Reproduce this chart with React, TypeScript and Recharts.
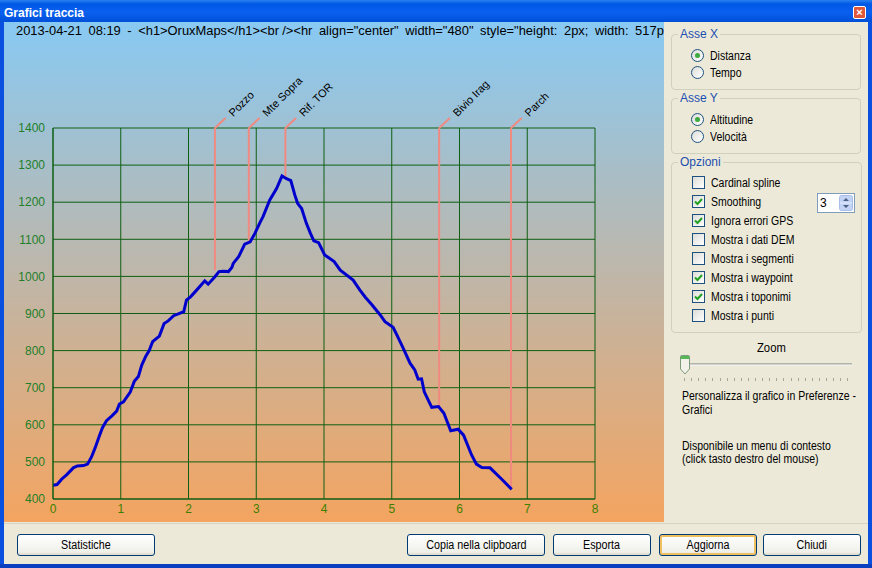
import React from "react";
import {
  ComposedChart,
  Line,
  XAxis,
  YAxis,
  CartesianGrid,
  ReferenceLine,
  ReferenceDot,
} from "recharts";

const distanceKm = [0,0.06,0.13,0.2,0.3,0.36,0.45,0.51,0.57,0.62,0.68,0.73,0.79,0.87,0.94,0.98,1.04,1.14,1.2,1.26,1.31,1.37,1.42,1.47,1.57,1.64,1.7,1.78,1.85,1.93,1.97,2.03,2.12,2.24,2.29,2.39,2.45,2.51,2.59,2.64,2.66,2.74,2.83,2.91,2.98,3.06,3.1,3.2,3.3,3.38,3.44,3.51,3.57,3.61,3.67,3.74,3.8,3.85,3.92,4.01,4.15,4.24,4.43,4.53,4.61,4.71,4.83,4.9,5.02,5.1,5.17,5.27,5.34,5.39,5.44,5.48,5.59,5.69,5.77,5.87,5.98,6.06,6.18,6.25,6.33,6.45,6.62,6.77];
const altitudeM = [437,439,454,465,484,489,490,494,514,537,568,592,611,624,637,656,662,688,717,730,761,785,800,824,839,873,880,894,899,905,936,945,963,988,979,999,1013,1014,1013,1024,1035,1053,1087,1093,1116,1147,1161,1206,1237,1271,1264,1258,1219,1197,1183,1143,1116,1096,1091,1058,1040,1017,990,963,944,923,896,878,863,833,806,766,748,723,724,689,647,649,631,584,588,572,518,494,485,484,454,426];
const waypointNames = ["Pozzo", "Mte Sopra", "Rif. TOR", "Bivio Irag", "Parch"];
const waypointKm = [2.39, 2.89, 3.43, 5.7, 6.76];
const waypointAlt = [1017, 1093, 1264, 649, 426];
const xTicks = [0, 1, 2, 3, 4, 5, 6, 7, 8];
const yTicks = [400, 500, 600, 700, 800, 900, 1000, 1100, 1200, 1300, 1400];

const track = distanceKm.map((km, i) => ({ km, alt: altitudeM[i] }));

const textFont = "'Liberation Sans', Arial, sans-serif";

const Abs = ({ l, t, w, h, style, children }: any) => (
  <div style={{ position: "absolute", left: l, top: t, width: w, height: h, ...style }}>{children}</div>
);

const T = ({ l, t, children, style }: any) => (
  <div style={{ position: "absolute", left: l, top: t, fontFamily: textFont, fontSize: 12.5, lineHeight: "14px", color: "#000", whiteSpace: "nowrap", transform: "scaleX(0.84)", transformOrigin: "0 0", ...style }}>{children}</div>
);

const Group = ({ l, t, w, h, title }: any) => (
  <>
    <Abs l={l} t={t} w={w} h={h} style={{ border: "1px solid #d0d0bf", borderRadius: 4, boxSizing: "border-box" }} />
    <T l={l + 7} t={t - 7} style={{ color: "#1c4fb0", background: "#ece9d8", padding: "0 2px", fontSize: 12, transform: "none" }}>{title}</T>
  </>
);

const Radio = ({ l, t, label, on }: any) => (
  <>
    <Abs l={l} t={t} w={13} h={13} style={{ borderRadius: "50%", border: "1px solid #1c5180", background: "linear-gradient(135deg,#dcdcd7,#fff)", boxSizing: "border-box" }}>
      {on && <div style={{ position: "absolute", left: 3, top: 3, width: 5, height: 5, borderRadius: "50%", background: "#3fa83f" }} />}
    </Abs>
    <T l={l + 19} t={t}>{label}</T>
  </>
);

const Check = ({ l, t, label, on }: any) => (
  <>
    <Abs l={l} t={t} w={13} h={13} style={{ border: "1px solid #1c5180", background: "linear-gradient(135deg,#dcdcd7,#fff)", boxSizing: "border-box" }}>
      {on && (
        <svg width={11} height={11} style={{ position: "absolute", left: 0, top: 0 }}>
          <path d="M2 5.5 L4.5 8 L9 3" fill="none" stroke="#21a121" strokeWidth={2} />
        </svg>
      )}
    </Abs>
    <T l={l + 19} t={t}>{label}</T>
  </>
);

const Btn = ({ l, w, label, focus }: any) => (
  <Abs l={l} t={534} w={w} h={22} style={{
    border: "1px solid #003c74", borderRadius: 3, boxSizing: "border-box",
    background: "linear-gradient(#fff,#f0f0ea 85%,#dcd8ca)",
    boxShadow: focus ? "inset 0 0 0 2px #f0c060" : "none",
    fontFamily: textFont, fontSize: 12.5, lineHeight: "20px", textAlign: "center", color: "#000",
  }}><span style={{ display: "inline-block", transform: "scaleX(0.86)" }}>{label}</span></Abs>
);

const options: [string, number, boolean][] = [
  ["Cardinal spline", 176, false],
  ["Smoothing", 195, true],
  ["Ignora errori GPS", 214, true],
  ["Mostra i dati DEM", 233, false],
  ["Mostra i segmenti", 252, false],
  ["Mostra i waypoint", 271, true],
  ["Mostra i toponimi", 290, true],
  ["Mostra i punti", 309, false],
];

const WaypointLabel = ({ viewBox, text }: any) => {
  const x = viewBox.x + viewBox.width / 2;
  const y = viewBox.y + viewBox.height / 2;
  return (
    <text x={x} y={y} transform={`rotate(-45 ${x} ${y})`} fontFamily={textFont} fontSize={11} fill="#000">{text}</text>
  );
};

export default function App() {
  return (
    <div style={{ position: "absolute", left: 0, top: 0, width: 872, height: 568, overflow: "hidden", background: "#ece9d8" }}>
      {/* window frame */}
      <Abs l={0} t={0} w={872} h={22} style={{ background: "linear-gradient(#2a80f0,#0058e6 18%,#0a60f0 55%,#0050d8)" }} />
      <Abs l={0} t={22} w={4} h={546} style={{ background: "#0a50e0" }} />
      <Abs l={868} t={22} w={4} h={546} style={{ background: "#0a50e0" }} />
      <Abs l={0} t={564} w={872} h={4} style={{ background: "#0a3fc0" }} />
      <div style={{ position: "absolute", left: 4, top: 6, fontFamily: textFont, fontWeight: 700, fontSize: 12, lineHeight: "14px", color: "#fff", whiteSpace: "nowrap" }}>Grafici traccia</div>
      <Abs l={853} t={6} w={13} h={13} style={{ background: "#e0583a", border: "1px solid #fff", borderRadius: 2, boxSizing: "border-box", color: "#fff", fontFamily: textFont, fontWeight: 700, fontSize: 11, lineHeight: "11px", textAlign: "center" }}>×</Abs>

      {/* gradient plot surface */}
      <Abs l={4} t={22} w={660} h={500} style={{ background: "linear-gradient(#88c9f3,#f4a460)" }} />
      <Abs l={4} t={523} w={864} h={1} style={{ background: "#d6d3c4" }} />

      <div style={{ position: "absolute", left: 16, top: 24, fontFamily: textFont, fontSize: 12.9, wordSpacing: -0.3, lineHeight: "14px", color: "#000", whiteSpace: "pre" }}>
        {'2013-04-21  08:19  -  <h1>OruxMaps</h1><br /><hr  align="center"  width="480"  style="height:  2px;  width:  517p'}
      </div>

      <div style={{ position: "absolute", left: 0, top: 0 }}>
        <ComposedChart
          width={872}
          height={568}
          data={track}
          margin={{ top: 128, right: 277, bottom: 39, left: 0 }}
          style={{ background: "transparent" }}
        >
          <CartesianGrid stroke="#0e5f12" strokeWidth={1} />
          <XAxis
            dataKey="km"
            type="number"
            domain={[0, 8]}
            ticks={xTicks}
            interval={0}
            allowDataOverflow
            axisLine={{ stroke: "#0e5f12" }}
            tickLine={false}
            tickMargin={-1}
            height={30}
            tick={{ fill: "#3f7f00", fontSize: 12, fontFamily: textFont }}
          />
          <YAxis
            dataKey="alt"
            type="number"
            domain={[400, 1400]}
            ticks={yTicks}
            interval={0}
            allowDataOverflow
            axisLine={{ stroke: "#0e5f12" }}
            tickLine={false}
            width={53}
            tickMargin={2}
            tick={{ fill: "#1f7f2a", fontSize: 12, fontFamily: textFont }}
          />
          {waypointKm.map((km, i) => (
            <ReferenceLine
              key={`v${i}`}
              segment={[{ x: km, y: waypointAlt[i] }, { x: km, y: 1400 }]}
              stroke="#f08a80"
              strokeWidth={2}
              ifOverflow="visible"
            />
          ))}
          {waypointKm.map((km, i) => (
            <ReferenceLine
              key={`b${i}`}
              segment={[{ x: km, y: 1400 }, { x: km + 0.158, y: 1427 }]}
              stroke="#f08a80"
              strokeWidth={2}
              ifOverflow="visible"
            />
          ))}
          {waypointKm.map((km, i) => (
            <ReferenceDot
              key={`d${i}`}
              x={km + 0.27}
              y={1429}
              r={0}
              stroke="none"
              fill="none"
              ifOverflow="visible"
              label={(p: any) => <WaypointLabel {...p} text={waypointNames[i]} />}
            />
          ))}
          <Line
            dataKey="alt"
            type="linear"
            stroke="#0000cd"
            strokeWidth={3}
            dot={false}
            activeDot={false}
            isAnimationActive={false}
          />
        </ComposedChart>
      </div>

      {/* side panel */}
      <Group l={671} t={34} w={190} h={56} title="Asse X" />
      <Radio l={691} t={49} label="Distanza" on />
      <Radio l={691} t={66} label="Tempo" />
      <Group l={671} t={98} w={190} h={56} title="Asse Y" />
      <Radio l={691} t={113} label="Altitudine" on />
      <Radio l={691} t={130} label="Velocità" />
      <Group l={671} t={162} w={191} h={171} title="Opzioni" />
      {options.map(([label, t, on]) => <Check key={label} l={692} t={t} label={label} on={on} />)}
      <Abs l={817} t={193} w={38} h={20} style={{ border: "1px solid #7f9db9", background: "#fff", boxSizing: "border-box", fontFamily: textFont, fontSize: 12, lineHeight: "18px", paddingLeft: 2 }}>3</Abs>
      <svg width={14} height={16} style={{ position: "absolute", left: 839, top: 195 }}>
        <rect x={0.5} y={0.5} width={13} height={15} rx={2} fill="#c3d3f5" stroke="#a8bde8" />
        <line x1={1} x2={13} y1={8} y2={8} stroke="#e8eefc" />
        <path d="M4 6 L7 3 L10 6 Z M4 10 L7 13 L10 10 Z" fill="#4d6185" />
      </svg>
      <T l={757} t={341} style={{ transform: "scaleX(0.9)" }}>Zoom</T>
      <Abs l={682} t={363} w={170} h={3} style={{ background: "linear-gradient(#a5a59a,#fff)" }} />
      <svg width={12} height={22} style={{ position: "absolute", left: 679, top: 354 }}>
        <path d="M1.5 2.5 Q1.5 1.5 2.5 1.5 L9.5 1.5 Q10.5 1.5 10.5 2.5 L10.5 15 L6 20 L1.5 15 Z" fill="#f2f2ea" stroke="#7a9a7a" />
        <rect x={2} y={2} width={8} height={3} fill="#58b858" />
      </svg>
      {Array.from({ length: 24 }).map((_, i) => (
        <Abs key={i} l={684 + i * 7.1} t={378} w={1} h={3} style={{ background: "#a5a59a" }} />
      ))}
      <T l={682} t={389}>Personalizza il grafico in Preferenze -<br />Grafici</T>
      <T l={682} t={440} style={{ lineHeight: "13px" }}>Disponibile un menu di contesto<br />(click tasto destro del mouse)</T>

      <Btn l={17} w={138} label="Statistiche" />
      <Btn l={407} w={138} label="Copia nella clipboard" />
      <Btn l={553} w={98} label="Esporta" />
      <Btn l={659} w={98} label="Aggiorna" focus />
      <Btn l={763} w={98} label="Chiudi" />
    </div>
  );
}
